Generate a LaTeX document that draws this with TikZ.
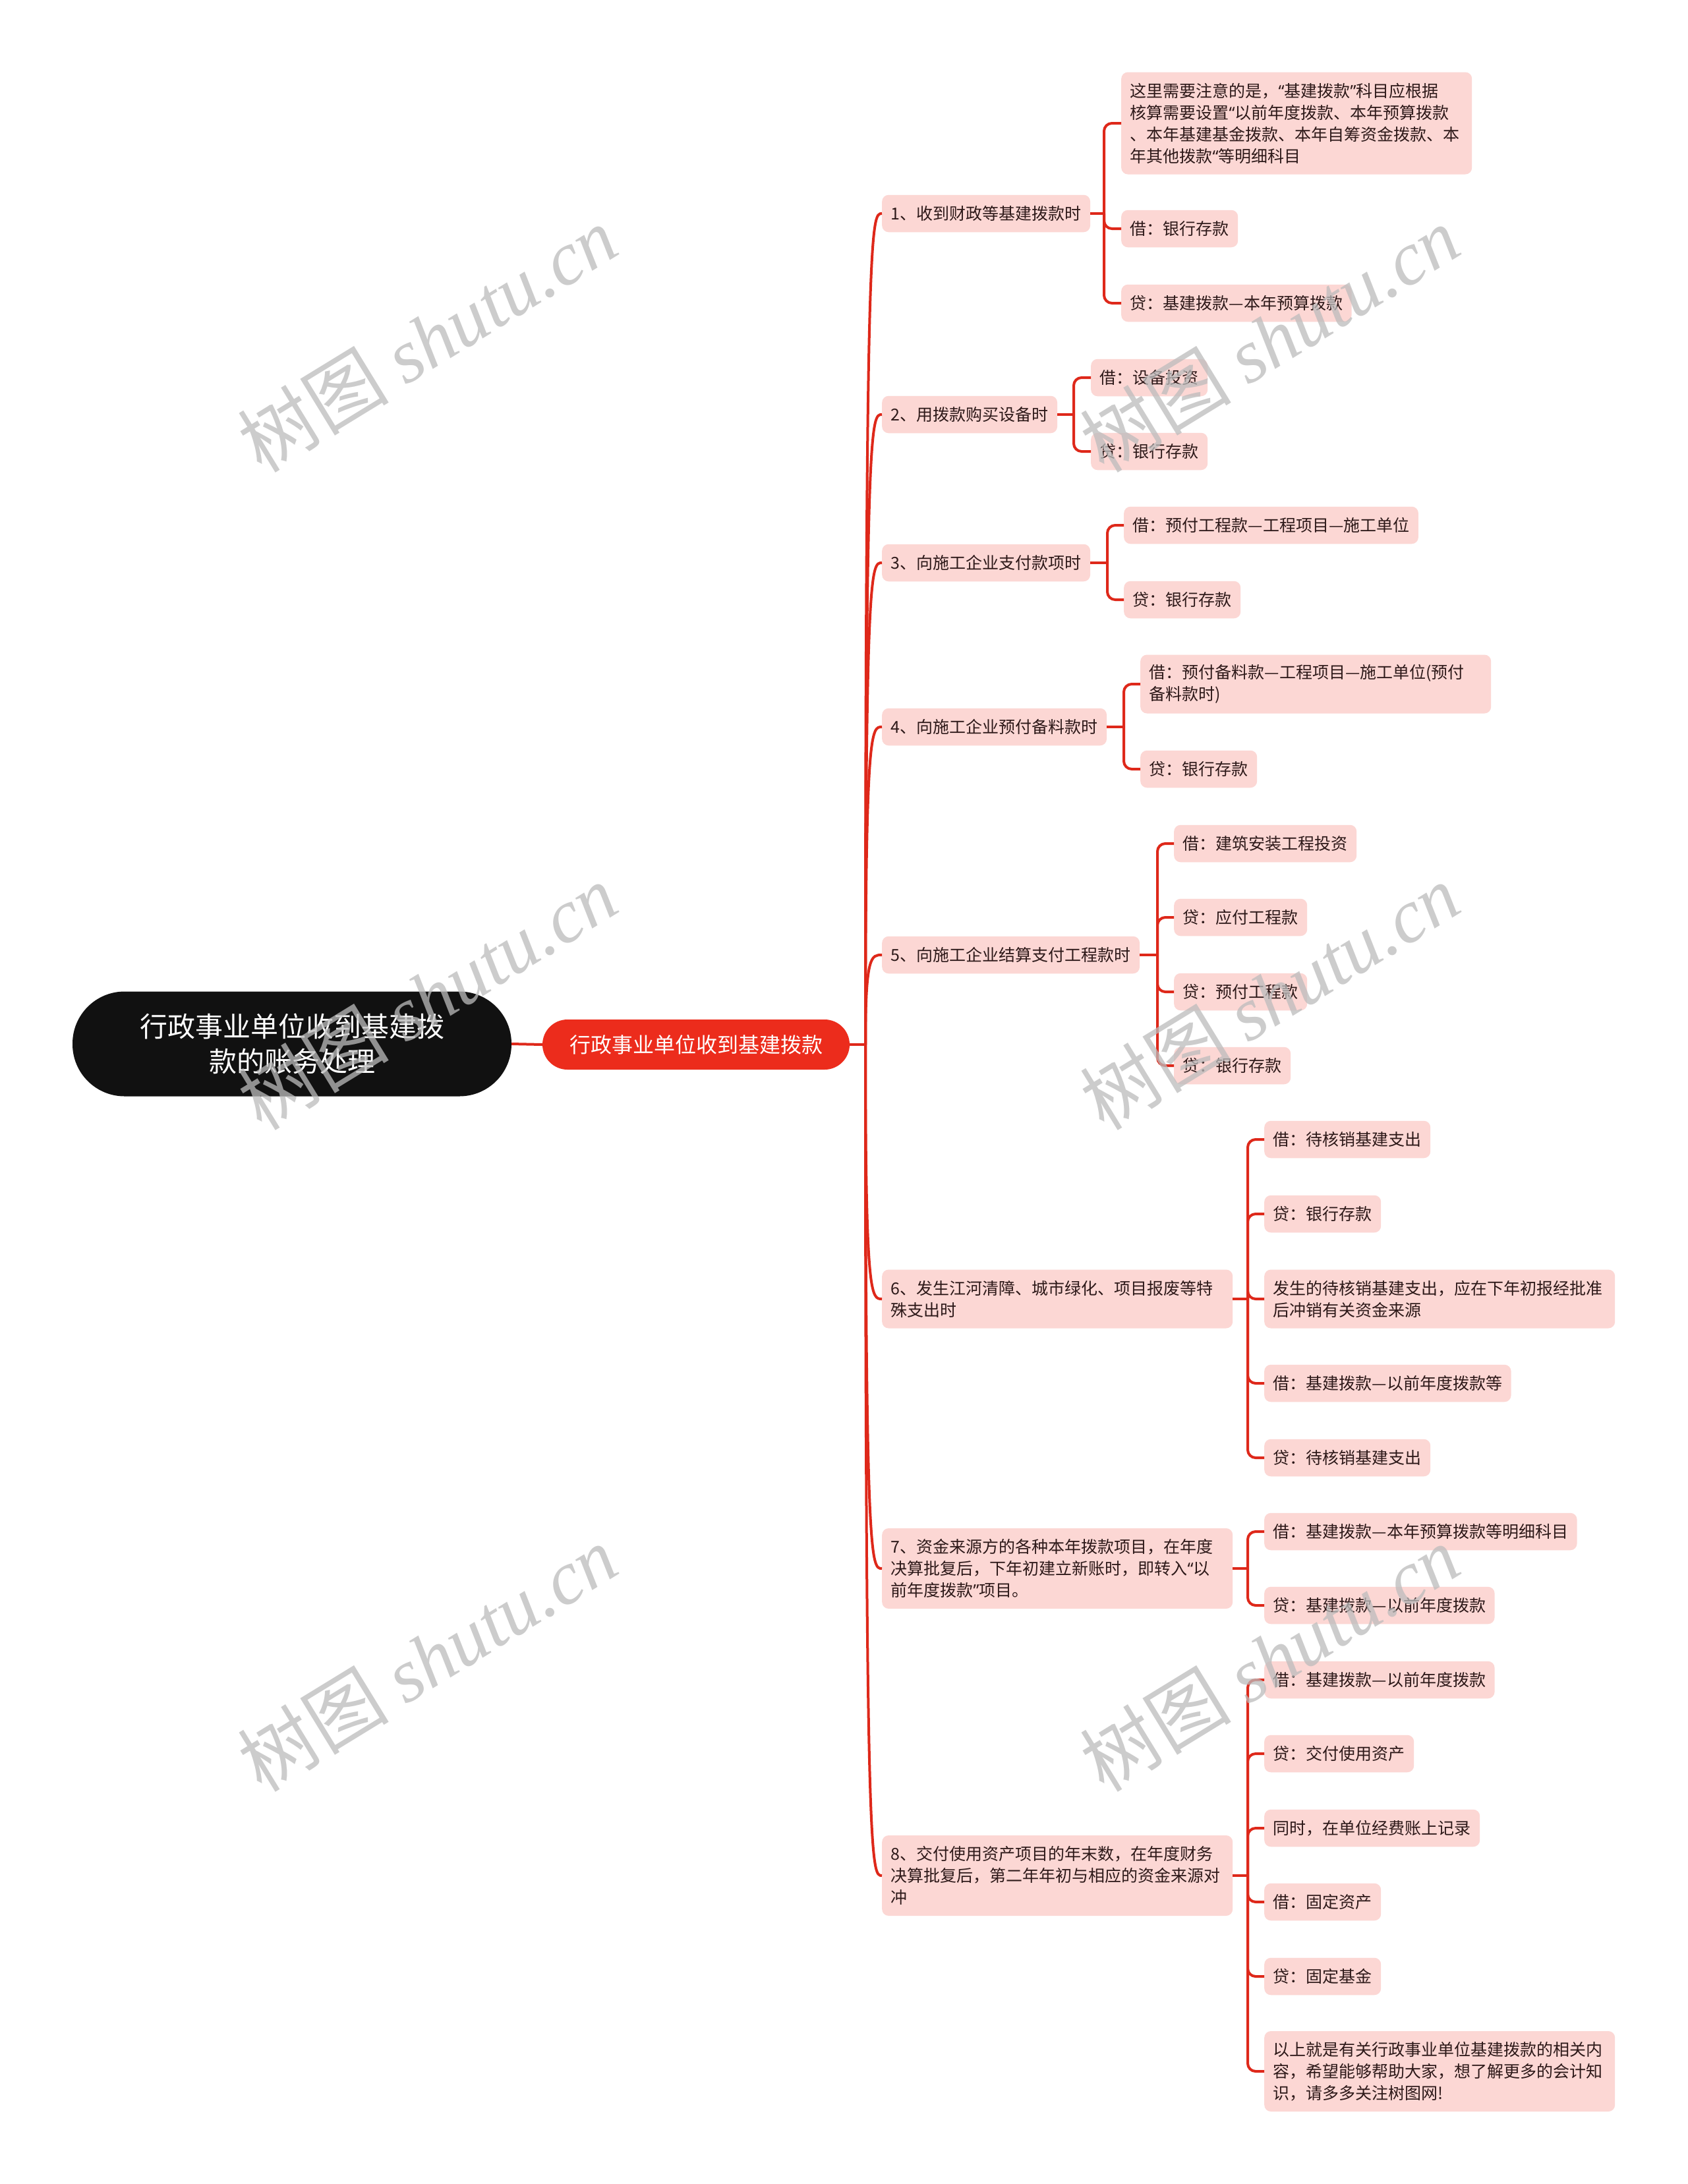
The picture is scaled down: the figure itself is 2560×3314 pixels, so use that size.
\documentclass[tikz,border=0pt]{standalone}
\usepackage{fontspec}
\setmainfont{Noto Sans CJK SC}
\newfontfamily\wmlatin{Liberation Serif}
\newfontfamily\qtfont{Noto Sans}
\newcommand\oq{{\qtfont “}}
\newcommand\cq{{\qtfont ”}}
\usetikzlibrary{calc}
\definecolor{linered}{RGB}{222,40,26}
\definecolor{nodered}{RGB}{236,44,28}
\definecolor{pinkfill}{RGB}{252,215,212}
\definecolor{txtdark}{RGB}{45,25,25}
\definecolor{rootfill}{RGB}{17,17,17}
\definecolor{wmgray}{RGB}{188,188,188}
\begin{document}
\begin{tikzpicture}[x=1pt,y=-1pt,
  wire/.style={draw=linered, line width=4pt},
  box/.style={fill=pinkfill, text=txtdark, rounded corners=10pt,
    font=\fontsize{25}{33}\selectfont, inner xsep=13.5pt, inner ysep=5pt,
    anchor=west, minimum height=56.5pt, align=left},
  multi/.style={text width=505pt, minimum height={#1*33+23}},
  rootbox/.style={fill=rootfill, text=white, rounded corners=79pt,
    minimum width=666pt, minimum height=159pt,
    font=\fontsize{42}{53}\selectfont, align=center, inner sep=0pt},
  mainbox/.style={fill=nodered, text=white, rounded corners=38pt,
    minimum width=466pt, minimum height=76pt,
    font=\fontsize{32}{40}\selectfont, inner sep=0pt},
  wm/.style={text=wmgray, opacity=0.75, rotate=31.5,
    font=\fontsize{115}{120}\selectfont}
]
\fill[white] (0,0) rectangle (2560,3314);
\useasboundingbox (0,0) rectangle (2560,3314);

% root and main
\node[rootbox] (root) at (443,1584) {行政事业单位收到基建拨\\款的账务处理};
\node[mainbox] (main) at (1056,1585) {行政事业单位收到基建拨款};

% level 2
\node[box] (L1) at (1338,324) {1、收到财政等基建拨款时};
\node[box] (L2) at (1338,629) {2、用拨款购买设备时};
\node[box] (L3) at (1338,854) {3、向施工企业支付款项时};
\node[box] (L4) at (1338,1103) {4、向施工企业预付备料款时};
\node[box] (L5) at (1338,1449) {5、向施工企业结算支付工程款时};
\node[box,multi=2] (L6) at (1338,1971) {6、发生江河清障、城市绿化、项目报废等特\\殊支出时};
\node[box,multi=3] (L7) at (1338,2380) {7、资金来源方的各种本年拨款项目，在年度\\决算批复后，下年初建立新账时，即转入\oq 以\\前年度拨款\cq 项目。};
\node[box,multi=3] (L8) at (1338,2846) {8、交付使用资产项目的年末数，在年度财务\\决算批复后，第二年年初与相应的资金来源对\\冲};

% group 1
\node[box,multi=4] (A1) at (1701,187) {这里需要注意的是，\oq 基建拨款\cq 科目应根据\\核算需要设置\oq 以前年度拨款、本年预算拨款\\、本年基建基金拨款、本年自筹资金拨款、本\\年其他拨款\oq 等明细科目};
\node[box] (A2) at (1701,347) {借：银行存款};
\node[box] (A3) at (1701,460) {贷：基建拨款—本年预算拨款};
% group 2
\node[box] (B1) at (1655,573) {借：设备投资};
\node[box] (B2) at (1655,685) {贷：银行存款};
% group 3
\node[box] (C1) at (1705,797) {借：预付工程款—工程项目—施工单位};
\node[box] (C2) at (1705,910) {贷：银行存款};
% group 4
\node[box,multi=2] (D1) at (1730,1038) {借：预付备料款—工程项目—施工单位(预付\\备料款时)};
\node[box] (D2) at (1730,1167) {贷：银行存款};
% group 5
\node[box] (E1) at (1781,1280) {借：建筑安装工程投资};
\node[box] (E2) at (1781,1392) {贷：应付工程款};
\node[box] (E3) at (1781,1505) {贷：预付工程款};
\node[box] (E4) at (1781,1617) {贷：银行存款};
% group 6
\node[box] (F1) at (1918,1729) {借：待核销基建支出};
\node[box] (F2) at (1918,1842) {贷：银行存款};
\node[box,multi=2] (F3) at (1918,1971) {发生的待核销基建支出，应在下年初报经批准\\后冲销有关资金来源};
\node[box] (F4) at (1918,2099) {借：基建拨款—以前年度拨款等};
\node[box] (F5) at (1918,2212) {贷：待核销基建支出};
% group 7
\node[box] (G1) at (1918,2324) {借：基建拨款—本年预算拨款等明细科目};
\node[box] (G2) at (1918,2436) {贷：基建拨款—以前年度拨款};
% group 8
\node[box] (H1) at (1918,2549) {借：基建拨款—以前年度拨款};
\node[box] (H2) at (1918,2661) {贷：交付使用资产};
\node[box] (H3) at (1918,2774) {同时，在单位经费账上记录};
\node[box] (H4) at (1918,2886) {借：固定资产};
\node[box] (H5) at (1918,2999) {贷：固定基金};
\node[box,multi=3] (H6) at (1918,3143) {以上就是有关行政事业单位基建拨款的相关内\\容，希望能够帮助大家，想了解更多的会计知\\识，请多多关注树图网!};

% connectors root -> main -> level 2
\draw[wire] (root.east) -- (main.west);
\coordinate (tr) at (1313,1585);
\draw[wire] (main.east) -- (tr);
\foreach \n in {L1,L2,L3,L4,L5,L6,L7,L8}
  \draw[wire] (tr) .. controls (tr |- \n.west) and ($(\n.west)+(-16,0)$) .. (\n.west);

% joints
\coordinate (j1) at (1675,324);
\coordinate (j2) at (1629,629);
\coordinate (j3) at (1680,854);
\coordinate (j4) at (1705,1103);
\coordinate (j5) at (1756,1449);
\coordinate (j6) at (1893,1971);
\coordinate (j7) at (1893,2380);
\coordinate (j8) at (1893,2846);
\draw[wire] (L1.east) -- (j1);
\draw[wire] (L2.east) -- (j2);
\draw[wire] (L3.east) -- (j3);
\draw[wire] (L4.east) -- (j4);
\draw[wire] (L5.east) -- (j5);
\draw[wire] (L6.east) -- (j6);
\draw[wire] (L7.east) -- (j7);
\draw[wire] (L8.east) -- (j8);
\foreach \c in {A1,A2,A3} \draw[wire, rounded corners=12pt] (j1) |- (\c.west);
\foreach \c in {B1,B2} \draw[wire, rounded corners=12pt] (j2) |- (\c.west);
\foreach \c in {C1,C2} \draw[wire, rounded corners=12pt] (j3) |- (\c.west);
\foreach \c in {D1,D2} \draw[wire, rounded corners=12pt] (j4) |- (\c.west);
\foreach \c in {E1,E2,E3,E4} \draw[wire, rounded corners=12pt] (j5) |- (\c.west);
\foreach \c in {F1,F2,F3,F4,F5} \draw[wire, rounded corners=12pt] (j6) |- (\c.west);
\foreach \c in {G1,G2} \draw[wire, rounded corners=12pt] (j7) |- (\c.west);
\foreach \c in {H1,H2,H3,H4,H5,H6} \draw[wire, rounded corners=12pt] (j8) |- (\c.west);

% watermarks
\node[wm] (w1) at (648,514) {树图 {\wmlatin\itshape shutu.cn}};
\node[wm] (w2) at (1926,514) {树图 {\wmlatin\itshape shutu.cn}};
\node[wm] (w3) at (648,1512) {树图 {\wmlatin\itshape shutu.cn}};
\node[wm] (w4) at (1926,1512) {树图 {\wmlatin\itshape shutu.cn}};
\node[wm] (w5) at (648,2516) {树图 {\wmlatin\itshape shutu.cn}};
\node[wm] (w6) at (1926,2516) {树图 {\wmlatin\itshape shutu.cn}};
\end{tikzpicture}
\end{document}
